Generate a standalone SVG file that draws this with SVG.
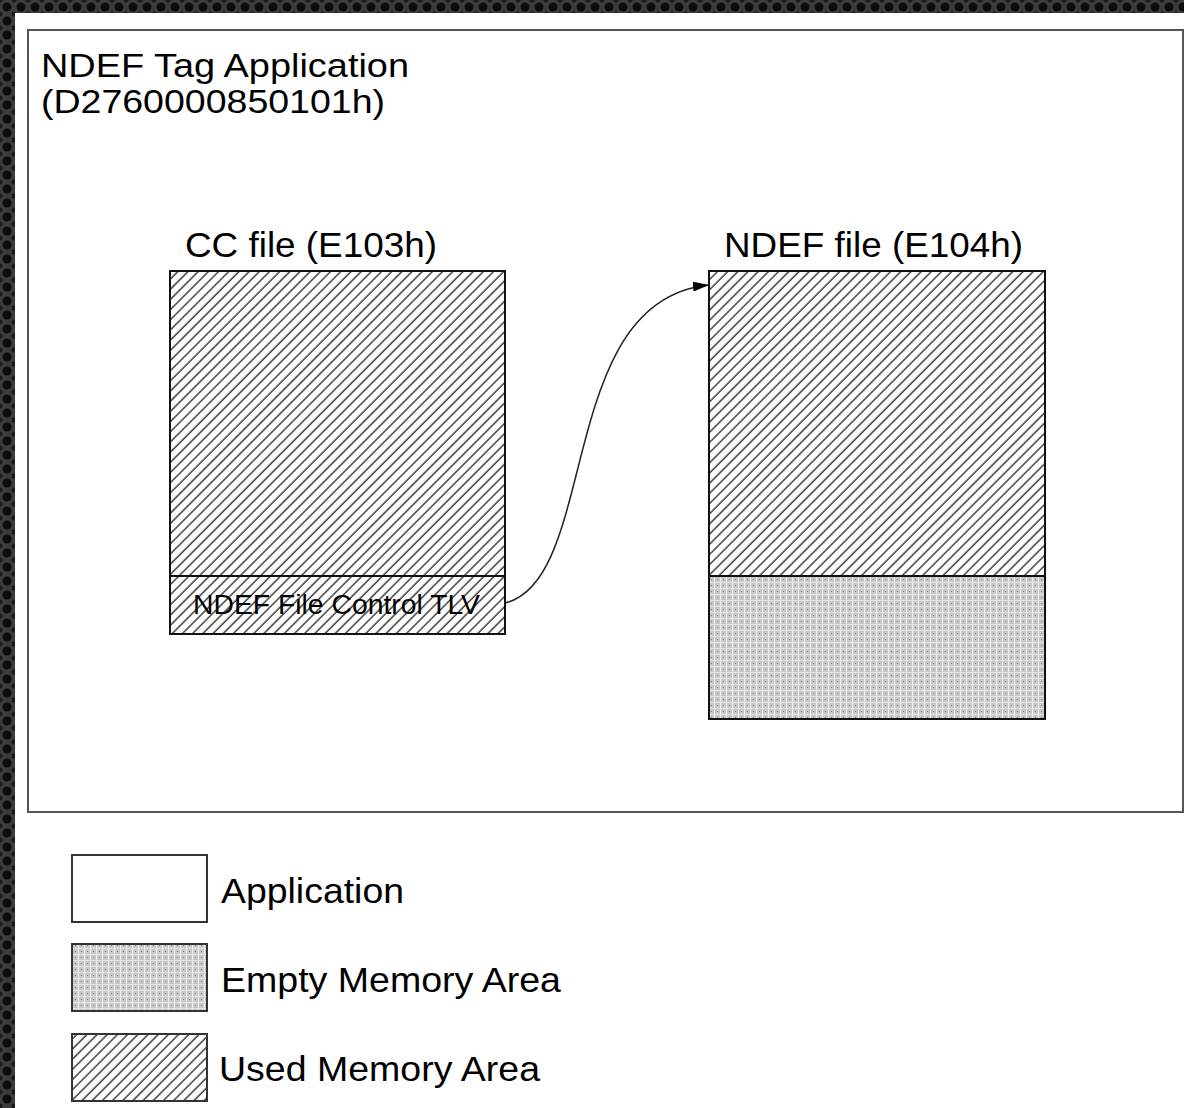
<svg xmlns="http://www.w3.org/2000/svg" width="1184" height="1108" viewBox="0 0 1184 1108">
<style>
text{font-family:"Liberation Sans",Arial,sans-serif;fill:#000}
.big{font-size:35px}
.title{font-size:34px}
.small{font-size:27px}
.box{stroke:#111;stroke-width:2}
.hatch{fill:url(#hatch)}
.dots{fill:url(#dots)}
</style>
<defs>
<pattern id="bg" width="14" height="14" patternUnits="userSpaceOnUse">
<rect width="14" height="14" fill="#3b3c3e"/>
<circle cx="7" cy="7" r="4.5" fill="#0c0c0c"/>
<circle cx="0" cy="0" r="2.5" fill="#1a1a1a"/>
<circle cx="14" cy="0" r="2.5" fill="#1a1a1a"/>
<circle cx="0" cy="14" r="2.5" fill="#1a1a1a"/>
<circle cx="14" cy="14" r="2.5" fill="#1a1a1a"/>
</pattern>
<pattern id="hatch" width="7.2" height="7.2" patternUnits="userSpaceOnUse" patternTransform="rotate(45)">
<rect width="7.2" height="7.2" fill="#fff"/>
<line x1="1" y1="0" x2="1" y2="7.2" stroke="#222" stroke-width="1.3"/>
</pattern>
<pattern id="dots" width="6" height="6" patternUnits="userSpaceOnUse">
<rect width="6" height="6" fill="#c8c8c8"/>
<rect x="0" y="0" width="1" height="6" fill="#f0f0f0"/>
<rect x="0" y="0" width="6" height="1" fill="#e4e4e4"/>
<rect x="3" y="3" width="1" height="1" fill="#7a7a7a"/>
</pattern>
<marker id="arr" viewBox="0 0 10 10" refX="10" refY="5" markerWidth="16" markerHeight="10" markerUnits="userSpaceOnUse" orient="auto" preserveAspectRatio="none">
<path d="M0,0 L10,5 L0,10 z" fill="#000"/>
</marker>
</defs>
<rect x="0" y="0" width="1184" height="1108" fill="url(#bg)"/>
<rect x="15" y="13" width="1180" height="1100" fill="#fff"/>

<g id="application">
<rect x="28" y="30" width="1155" height="782" fill="#fff" stroke="#555" stroke-width="2"/>
<text class="title" x="41" y="77" textLength="368" lengthAdjust="spacingAndGlyphs">NDEF Tag Application</text>
<text class="title" x="41" y="113" textLength="344" lengthAdjust="spacingAndGlyphs">(D2760000850101h)</text>
</g>

<g id="cc-file">
<text class="big" x="185" y="257" textLength="252" lengthAdjust="spacingAndGlyphs">CC file (E103h)</text>
<rect class="box hatch" x="170" y="271" width="335" height="305"/>
</g>

<g id="tlv">
<rect class="box hatch" x="170" y="576" width="335" height="58"/>
<text class="small" x="193" y="614" textLength="287" lengthAdjust="spacingAndGlyphs">NDEF File Control TLV</text>
</g>

<g id="ndef-file">
<text class="big" x="724" y="257" textLength="299" lengthAdjust="spacingAndGlyphs">NDEF file (E104h)</text>
<rect class="box hatch" x="709" y="271" width="336" height="305"/>
<rect class="box dots" x="709" y="576" width="336" height="143"/>
</g>

<g id="connectors">
<path d="M505,603 C600,580 555,300 709,285" fill="none" stroke="#222" stroke-width="1.5" marker-end="url(#arr)"/>
</g>

<g id="legend">
<rect x="72" y="855" width="135" height="67" fill="#fff" stroke="#333" stroke-width="2"/>
<text class="big" x="221" y="903" textLength="183" lengthAdjust="spacingAndGlyphs">Application</text>
<rect class="dots" x="72" y="944" width="135" height="67" stroke="#333" stroke-width="2"/>
<text class="big" x="221" y="992" textLength="340" lengthAdjust="spacingAndGlyphs">Empty Memory Area</text>
<rect class="hatch" x="72" y="1034" width="135" height="67" stroke="#333" stroke-width="2"/>
<text class="big" x="219" y="1081" textLength="321" lengthAdjust="spacingAndGlyphs">Used Memory Area</text>
</g>
</svg>
